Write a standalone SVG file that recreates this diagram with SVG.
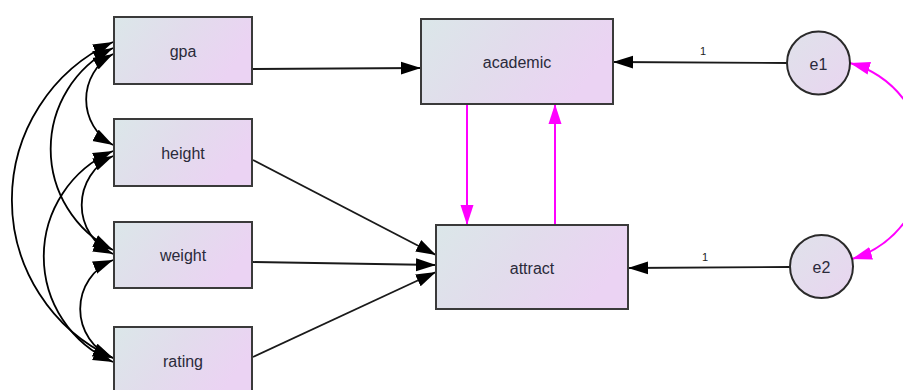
<svg xmlns="http://www.w3.org/2000/svg" width="903" height="390" viewBox="0 0 903 390">
  <defs>
    <linearGradient id="boxFill" x1="0" y1="0" x2="1" y2="0.35">
      <stop offset="0" stop-color="#dbe7e9"/>
      <stop offset="0.5" stop-color="#e2dcec"/>
      <stop offset="1" stop-color="#ebd3f3"/>
    </linearGradient>
    <linearGradient id="circFill" x1="0" y1="0" x2="1" y2="1">
      <stop offset="0" stop-color="#dfe2ea"/>
      <stop offset="1" stop-color="#e9d5f0"/>
    </linearGradient>
    <marker id="arrowBlack" markerUnits="userSpaceOnUse" markerWidth="21" markerHeight="14" refX="20" refY="7" orient="auto-start-reverse">
      <path d="M0,0.5 L20,7 L0,13.5 z" fill="#000"/>
    </marker>
    <marker id="arrowMagenta" markerUnits="userSpaceOnUse" markerWidth="21" markerHeight="14" refX="20" refY="7" orient="auto-start-reverse">
      <path d="M0,0.5 L20,7 L0,13.5 z" fill="#ff00ff"/>
    </marker>
    <style>
      .box { fill: url(#boxFill); stroke: #3a3a3a; stroke-width: 2; }
      .circ { fill: url(#circFill); stroke: #2a2a2a; stroke-width: 2; }
      .lbl { font-family: "Liberation Sans", Arial, sans-serif; font-size: 16px; fill: #2a2a3a; text-anchor: middle; dominant-baseline: central; }
      .wt { font-family: "Liberation Sans", Arial, sans-serif; font-size: 11px; fill: #222; text-anchor: middle; dominant-baseline: central; }
      .path { fill: none; stroke: #1a1a1a; stroke-width: 1.8; marker-end: url(#arrowBlack); }
      .cov { fill: none; stroke: #000; stroke-width: 1.8; marker-start: url(#arrowBlack); marker-end: url(#arrowBlack); }
      .mag { fill: none; stroke: #ff00ff; stroke-width: 2; marker-end: url(#arrowMagenta); }
      .magcov { fill: none; stroke: #ff00ff; stroke-width: 2; marker-start: url(#arrowMagenta); marker-end: url(#arrowMagenta); }
    </style>
  </defs>
  <rect width="903" height="390" fill="#fff"/>

  <!-- connectors -->
  <g id="connectors">
    <!-- regression paths -->
    <line class="path" x1="253" y1="69" x2="421" y2="68"/>
    <line class="path" x1="253" y1="160" x2="436" y2="255"/>
    <line class="path" x1="253" y1="262" x2="436" y2="265"/>
    <line class="path" x1="253" y1="357" x2="436" y2="272"/>
    <line class="path" x1="787" y1="63" x2="613" y2="62"/>
    <line class="path" x1="790" y1="267" x2="628" y2="268"/>
    <!-- reciprocal paths between academic and attract -->
    <line class="mag" x1="467" y1="104" x2="467" y2="225"/>
    <line class="mag" x1="555" y1="225" x2="555" y2="104"/>
    <!-- covariances among observed predictors -->
    <path class="cov" d="M113,42 A174,174 0 0 0 113,358"/>
    <path class="cov" d="M113,48 A113,113 0 0 0 113,250"/>
    <path class="cov" d="M113,54 A52,52 0 0 0 113,145"/>
    <path class="cov" d="M113,151 A115,115 0 0 0 113,362"/>
    <path class="cov" d="M113,156 A54,54 0 0 0 113,254"/>
    <path class="cov" d="M113,260 A53,53 0 0 0 113,358"/>
    <!-- error covariance -->
    <path class="magcov" d="M850,63 A102,102 0 0 1 852,259"/>
    <text class="wt" x="703" y="51">1</text>
    <text class="wt" x="705" y="257">1</text>
  </g>

  <g id="gpa">
    <rect class="box" x="114" y="17" width="138" height="67"/>
    <text class="lbl" x="183" y="51">gpa</text>
  </g>
  <g id="height">
    <rect class="box" x="114" y="119" width="138" height="67"/>
    <text class="lbl" x="183" y="153">height</text>
  </g>
  <g id="weight">
    <rect class="box" x="114" y="222" width="138" height="66"/>
    <text class="lbl" x="183" y="255">weight</text>
  </g>
  <g id="rating">
    <rect class="box" x="114" y="327" width="138" height="67"/>
    <text class="lbl" x="183" y="361">rating</text>
  </g>
  <g id="academic">
    <rect class="box" x="421" y="19" width="192" height="85"/>
    <text class="lbl" x="517" y="62">academic</text>
  </g>
  <g id="attract">
    <rect class="box" x="436" y="225" width="192" height="84"/>
    <text class="lbl" x="532" y="268">attract</text>
  </g>
  <g id="e1">
    <circle class="circ" cx="818.5" cy="63" r="31.5"/>
    <text class="lbl" x="818.5" y="64">e1</text>
  </g>
  <g id="e2">
    <circle class="circ" cx="821.5" cy="266.5" r="31.5"/>
    <text class="lbl" x="821.5" y="267.5">e2</text>
  </g>
</svg>
